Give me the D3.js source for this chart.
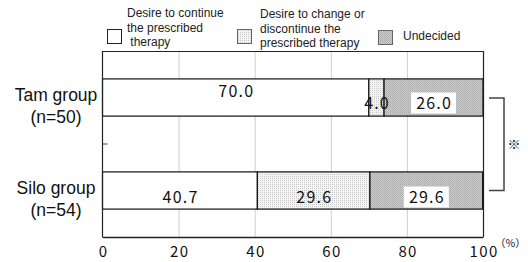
<!DOCTYPE html>
<meta charset="utf-8">
<head>
<title>Therapy preference by group</title>
<script src="https://d3js.org/d3.v7.min.js"></script>
<style>
  body { margin: 0; background: #fff; }
  text { font-family: Arial, "Liberation Sans", sans-serif; }
  .num { font-family: "Noto Sans CJK JP", sans-serif; }
</style>
</head>
<body>
<div id="chart"></div>
<script>

// data
var groups = ["Tam group", "Silo group"];
var groupN = ["(n=50)", "(n=54)"];
var continueVals = [70.0, 40.7];
var changeVals = [4.0, 29.6];
var undecidedVals = [26.0, 29.6];
var xTicks = [0, 20, 40, 60, 80, 100];
var legendLines = [
    ["Desire to continue", "the prescribed", " therapy"],
    ["Desire to change or", "discontinue the", "prescribed therapy"],
    ["Undecided"]
];

var width = 528, height = 262;

var svg = d3.select("#chart")
    .append("svg")
    .attr("width", width)
    .attr("height", height);

// patterns for the bar fills
var defs = svg.append("defs");
var dots = defs.append("pattern")
    .attr("id", "dots")
    .attr("width", 2).attr("height", 2)
    .attr("patternUnits", "userSpaceOnUse");
dots.append("rect").attr("width", 2).attr("height", 2).attr("fill", "#f4f4f4");
dots.append("rect").attr("width", 1).attr("height", 1).attr("fill", "#cacaca");

var hatch = defs.append("pattern")
    .attr("id", "hatch")
    .attr("width", 2).attr("height", 2)
    .attr("patternUnits", "userSpaceOnUse");
hatch.append("rect").attr("width", 2).attr("height", 2).attr("fill", "#cdcdcd");
hatch.append("rect").attr("x", 0).attr("y", 0).attr("width", 1).attr("height", 1).attr("fill", "#a9a9a9");
hatch.append("rect").attr("x", 1).attr("y", 1).attr("width", 1).attr("height", 1).attr("fill", "#b4b4b4");

var fills = ["#ffffff", "url(#dots)", "url(#hatch)"];

// scales
var x = d3.scaleLinear().domain([0, 100]).range([102.5, 483]);
var y = d3.scaleBand().domain(groups).range([51, 237]).padding(0);
var barH = y.bandwidth() * 0.4;

// gridlines
svg.append("g")
    .selectAll("line")
    .data(xTicks.filter(function(d) { return d > 0 && d < 100; }))
    .enter().append("line")
    .attr("x1", function(d) { return x(d) + 0.5; })
    .attr("x2", function(d) { return x(d) + 0.5; })
    .attr("y1", 51).attr("y2", 237)
    .attr("stroke", "#cfcfcf").attr("stroke-width", 1);

// frame: top and right
svg.append("path")
    .attr("d", "M" + x(0) + ",51.5H" + (x(100) + 0.5) + "V237")
    .attr("fill", "none").attr("stroke", "#222").attr("stroke-width", 1.2);

// stacked bars
var rows = groups.map(function(g, i) {
    var vals = [continueVals[i], changeVals[i], undecidedVals[i]];
    var start = 0;
    return vals.map(function(v, k) {
        var seg = {group: g, k: k, x0: start, x1: start + v, v: v};
        start += v;
        return seg;
    });
});

rows.forEach(function(segs) {
    svg.append("g")
        .selectAll("rect")
        .data(segs)
        .enter().append("rect")
        .attr("x", function(d) { return x(d.x0); })
        .attr("width", function(d) { return x(d.x1) - x(d.x0); })
        .attr("y", function(d) { return y(d.group) + (y.bandwidth() - barH) / 2; })
        .attr("height", barH)
        .attr("fill", function(d) { return fills[d.k]; })
        .attr("stroke", "#111").attr("stroke-width", 1.2);
});

// value labels
var labelDy = [[-1, 11, 11], [12, 12, 12]];
rows.forEach(function(segs, i) {
    segs.forEach(function(d) {
        var cx = x((d.x0 + d.x1) / 2);
        var cy = y(d.group) + y.bandwidth() / 2 + labelDy[i][d.k];
        if (d.k === 2) {
            svg.append("rect")
                .attr("x", cx - 22.5).attr("y", cy - 16)
                .attr("width", 45).attr("height", 21)
                .attr("fill", "#fff");
        }
        svg.append("text")
            .attr("class", "num")
            .attr("x", cx + 0.6).attr("y", cy)
            .attr("text-anchor", "middle")
            .style("font-size", "16px")
            .style("letter-spacing", "1.2px")
            .attr("fill", "#111")
            .text(d.v.toFixed(1));
    });
});

// left axis with category tick
svg.append("line")
    .attr("x1", x(0)).attr("x2", x(0))
    .attr("y1", 51).attr("y2", 237.5)
    .attr("stroke", "#222").attr("stroke-width", 1.2);
svg.append("line")
    .attr("x1", x(0)).attr("x2", x(0) + 5)
    .attr("y1", y(groups[1])).attr("y2", y(groups[1]))
    .attr("stroke", "#444").attr("stroke-width", 1);

// bottom axis
var xAxis = svg.append("g")
    .attr("transform", "translate(0,237)")
    .call(d3.axisBottom(x).tickValues(xTicks).tickSize(0).tickPadding(9));
xAxis.select(".domain").attr("stroke", "#222").attr("stroke-width", 1.5);
xAxis.selectAll("text")
    .attr("class", "num")
    .style("font-size", "15px")
    .style("letter-spacing", "1.4px")
    .attr("dx", "0.7px")
    .attr("fill", "#111");

svg.append("text")
    .attr("class", "num")
    .attr("x", 495).attr("y", 247)
    .style("font-size", "10.5px")
    .attr("fill", "#111")
    .text("（%）");

// category labels
groups.forEach(function(g, i) {
    var cy = y(g) + y.bandwidth() / 2;
    svg.append("text")
        .attr("x", 56).attr("y", cy + 3)
        .attr("text-anchor", "middle")
        .style("font-size", "17.5px")
        .attr("fill", "#111")
        .text(g);
    svg.append("text")
        .attr("x", 56).attr("y", cy + 25)
        .attr("text-anchor", "middle")
        .style("font-size", "17.5px")
        .attr("fill", "#111")
        .text(groupN[i]);
});

// significance bracket
var bx0 = x(100) + 6, bx1 = x(100) + 21;
var by0 = y(groups[0]) + y.bandwidth() / 2 + 0.5;
var by1 = y(groups[1]) + y.bandwidth() / 2;
svg.append("path")
    .attr("d", "M" + bx0 + "," + by0 + "H" + bx1 + "V" + by1 + "H" + bx0)
    .attr("fill", "none").attr("stroke", "#444").attr("stroke-width", 1.5);
svg.append("text")
    .attr("class", "num")
    .attr("x", bx1 + 10).attr("y", (by0 + by1) / 2 + 5)
    .attr("text-anchor", "middle")
    .style("font-size", "13px")
    .attr("fill", "#222")
    .text("※");

// legend
var legendBoxes = [{x: 107, y: 29}, {x: 237, y: 29}, {x: 378, y: 30}];
var legendText = [{x: 127, y: 17}, {x: 260, y: 18}, {x: 403, y: 40}];
legendLines.forEach(function(lines, k) {
    svg.append("rect")
        .attr("x", legendBoxes[k].x + 0.5).attr("y", legendBoxes[k].y + 0.5)
        .attr("width", 14).attr("height", 14)
        .attr("fill", fills[k])
        .attr("stroke", k === 0 ? "#222" : "#666").attr("stroke-width", 1);
    var t = svg.append("text")
        .attr("x", legendText[k].x).attr("y", legendText[k].y)
        .style("font-size", "12px")
        .style("white-space", "pre")
        .attr("fill", "#222");
    lines.forEach(function(line, j) {
        t.append("tspan")
            .attr("x", legendText[k].x)
            .attr("dy", j === 0 ? 0 : 14.5)
            .text(line);
    });
});

</script>
</body>
</html>
